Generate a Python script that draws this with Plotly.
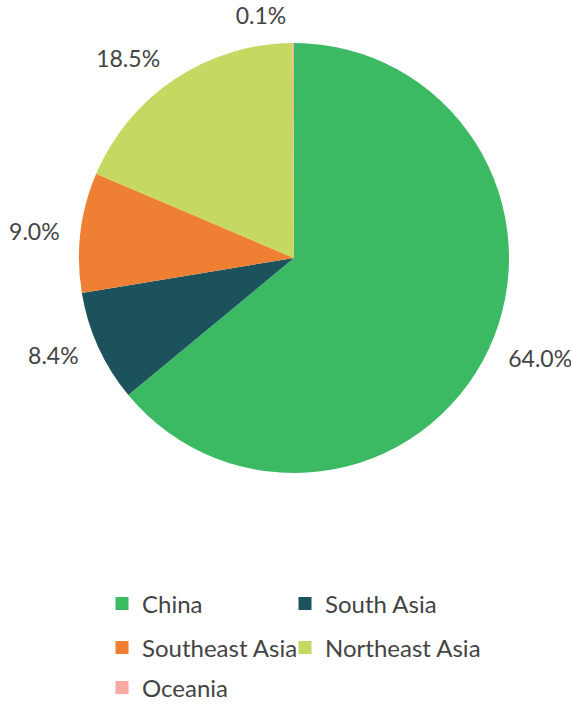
import plotly.graph_objects as go

# Share of total by region (percent)
regions = ["China", "South Asia", "Southeast Asia", "Northeast Asia", "Oceania"]
shares = [64.0, 8.4, 9.0, 18.5, 0.1]
colors = ["#3cb963", "#1b525c", "#ee7f33", "#c5d962", "#f9a8a4"]

W, H = 571, 704
FONT = "Lato"
TEXT_COLOR = "#444444"

# pie geometry (pixels)
CX, CY, R = 294, 258, 215
LABEL_GAP = 14  # extra distance of the outside labels from the rim

# legend grid: two columns; the last row is kept clear of the bottom edge
LEG_COL_X = [102, 285]
LEG_ROW_Y = [604, 648, 688]


def domain(radius):
    return dict(
        x=[(CX - radius) / W, (CX + radius) / W],
        y=[1 - (CY + radius) / H, 1 - (CY - radius) / H],
    )


fig = go.Figure()

# transparent ring carrying the percentage labels a bit away from the rim
fig.add_trace(
    go.Pie(
        labels=regions,
        values=shares,
        marker=dict(colors=["rgba(0,0,0,0)"] * len(regions), line=dict(width=0)),
        sort=False,
        direction="clockwise",
        rotation=0,
        texttemplate="%{value:.1f}%",
        textposition="outside",
        textfont=dict(family=FONT, size=23, color=TEXT_COLOR),
        hoverinfo="skip",
        showlegend=False,
        domain=domain(R + LABEL_GAP),
        automargin=False,
    )
)

# the visible pie
fig.add_trace(
    go.Pie(
        labels=regions,
        values=shares,
        marker=dict(colors=colors, line=dict(width=0)),
        sort=False,
        direction="clockwise",
        rotation=0,
        textinfo="none",
        hoverinfo="label+value",
        showlegend=False,
        domain=domain(R),
        automargin=False,
    )
)

legend_style = dict(
    orientation="h",
    xanchor="left",
    yanchor="middle",
    font=dict(family=FONT, size=24, color=TEXT_COLOR),
    bgcolor="rgba(0,0,0,0)",
)
legends = {}

# one legend entry per region, laid out on a 2-column grid
for i, (name, col) in enumerate(zip(regions, colors)):
    key = "legend" if i == 0 else f"legend{i + 1}"
    fig.add_trace(
        go.Scatter(
            x=[None],
            y=[None],
            mode="markers",
            name=name,
            marker=dict(symbol="square", size=13, color=col),
            legend=key,
            hoverinfo="skip",
        )
    )
    legends[key] = dict(
        legend_style,
        x=LEG_COL_X[i % 2] / W,
        y=1 - LEG_ROW_Y[i // 2] / H,
    )

fig.update_layout(
    width=W,
    height=H,
    margin=dict(l=0, r=0, t=0, b=0, autoexpand=False),
    paper_bgcolor="white",
    plot_bgcolor="white",
    font=dict(family=FONT, size=23, color=TEXT_COLOR),
    xaxis=dict(visible=False),
    yaxis=dict(visible=False),
    **legends,
)

fig.write_html("out.html")
